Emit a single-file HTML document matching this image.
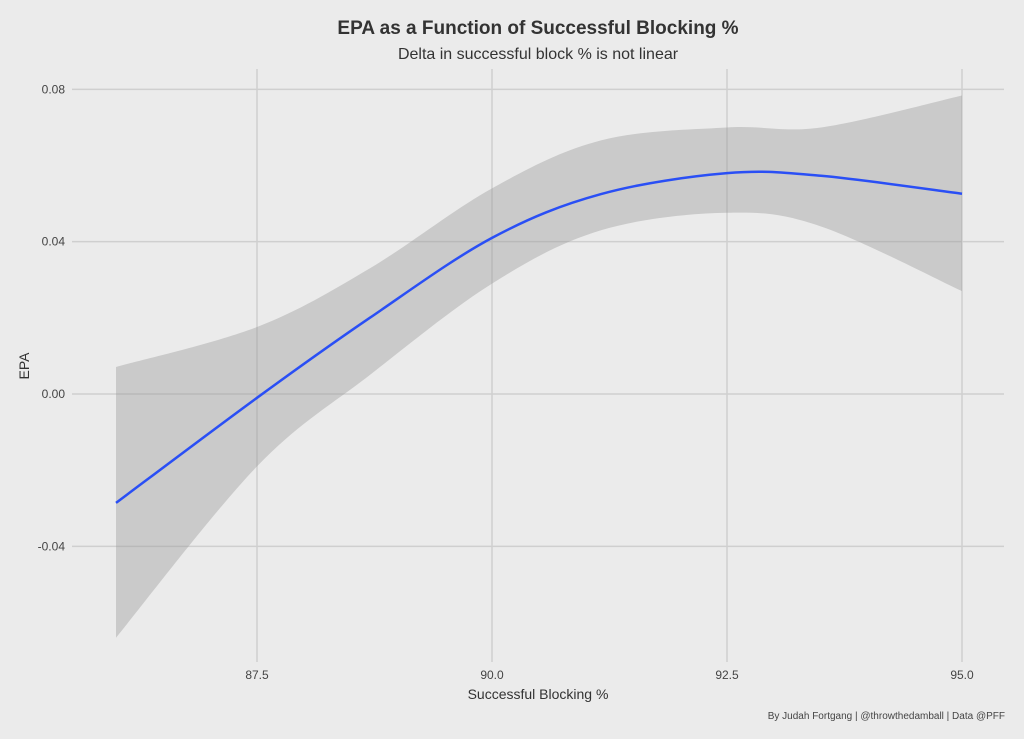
<!DOCTYPE html>
<html><head><meta charset="utf-8"><style>
body{margin:0;background:#ebebeb;}
svg{display:block;font-family:"Liberation Sans",sans-serif;}
</style></head><body>
<svg id="chart" width="1024" height="739">
<rect width="1024" height="739" fill="#ebebeb"/>
<text x="538" y="34" text-anchor="middle" font-size="19" font-weight="bold" fill="#333">EPA as a Function of Successful Blocking %</text>
<text x="538" y="59" text-anchor="middle" font-size="16" fill="#333">Delta in successful block % is not linear</text>
<g id="grid"></g>
<g id="marks"></g>
<text x="538" y="699" text-anchor="middle" font-size="14" fill="#333">Successful Blocking %</text>
<text transform="translate(29,366) rotate(-90)" text-anchor="middle" font-size="14" fill="#333">EPA</text>
<text x="1005" y="719" text-anchor="end" font-size="10" fill="#444">By Judah Fortgang | @throwthedamball | Data @PFF</text>
</svg>
<script>
const xTicks=[87.5,90.0,92.5,95.0];
const xTickLabels=["87.5","90.0","92.5","95.0"];
const yTicks=[0.08,0.04,0.00,-0.04];
const yTickLabels=["0.08","0.04","0.00","-0.04"];
const xs=[86,87.5,88.7,90,91.16,92.5,93.5,95];
const fit=[-0.0286,-0.001,0.020,0.041,0.0525,0.058,0.0573,0.0526];
const upper=[0.0071,0.0176,0.033,0.054,0.0666,0.070,0.070,0.0784];
const lower=[-0.064,-0.019,0.005,0.029,0.043,0.0476,0.044,0.027];
const NS='http://www.w3.org/2000/svg';
function sx(v){return 257+(v-87.5)*(705/7.5);}
function sy(v){return 394-v*3808;}
function el(t,a,p){const e=document.createElementNS(NS,t);for(const k in a)e.setAttribute(k,a[k]);p.appendChild(e);return e;}
const grid=document.getElementById('grid'),marks=document.getElementById('marks');
yTicks.forEach((t,i)=>{
 const l=el('line',{x1:72,x2:1004,y1:sy(t),y2:sy(t),stroke:'#cfcfcf','stroke-width':1.5},grid);
 
 
 const tx=el('text',{x:65,y:sy(t)+4,'text-anchor':'end','font-size':12,fill:'#444'},grid);
 tx.textContent=yTickLabels[i];
 
 
});
xTicks.forEach((t,i)=>{
 const l=el('line',{x1:sx(t),x2:sx(t),y1:69,y2:662,stroke:'#cfcfcf','stroke-width':1.5},grid);
 
 
 const tx=el('text',{x:sx(t),y:679,'text-anchor':'middle','font-size':12,fill:'#444'},grid);
 tx.textContent=xTickLabels[i];
 
 
});
function pts(ys){return xs.map((x,i)=>[sx(x),sy(ys[i])]);}
function spline(p,move){
 let d=(move?'M':'L')+p[0][0]+','+p[0][1];
 for(let i=0;i<p.length-1;i++){
  const p0=p[Math.max(i-1,0)],p1=p[i],p2=p[i+1],p3=p[Math.min(i+2,p.length-1)];
  const c1=[p1[0]+(p2[0]-p0[0])/6,p1[1]+(p2[1]-p0[1])/6];
  const c2=[p2[0]-(p3[0]-p1[0])/6,p2[1]-(p3[1]-p1[1])/6];
  d+=' C'+c1+' '+c2+' '+p2;
 }
 return d;
}
const band=el('path',{d:spline(pts(upper),true)+' '+spline(pts(lower).reverse(),false)+' Z',fill:'#999','fill-opacity':0.4},marks);


const line=el('path',{d:spline(pts(fit),true),fill:'none',stroke:'#2a4ff5','stroke-width':2.5},marks);


</script>
</body></html>
